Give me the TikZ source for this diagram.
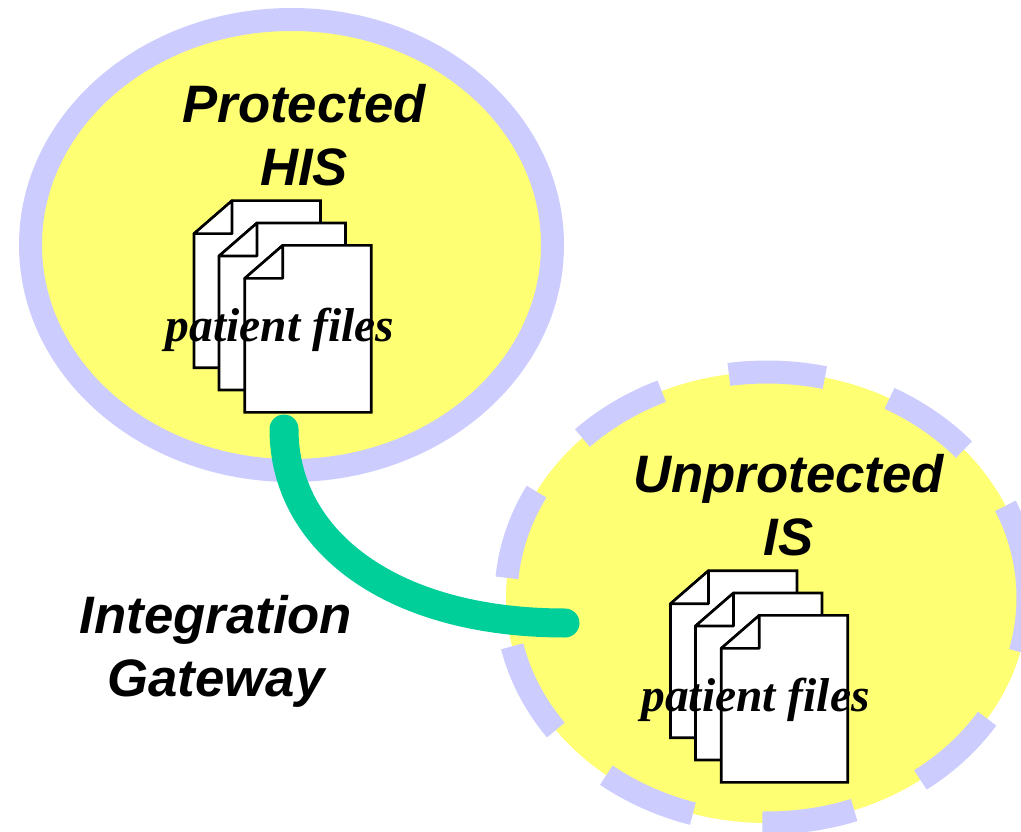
\documentclass[tikz,border=0pt]{standalone}
\usepackage{fontspec}
\setmainfont{Liberation Sans}
\newfontfamily\serifbi{Liberation Serif}
\usetikzlibrary{shapes.geometric}
\definecolor{zoneyellow}{HTML}{FFFF73}
\definecolor{ringblue}{HTML}{CCCCFF}
\definecolor{linkgreen}{HTML}{00CF9A}
\tikzset{
  x=1pt,y=-1pt,
  zone/.style={ellipse,inner sep=0pt,outer sep=0pt,fill=zoneyellow,minimum width=522pt,minimum height=451pt},
  ringdash/.style={draw=ringblue,line width=23pt,line cap=butt},
  head/.style={font=\fontsize{52.7}{63}\selectfont\bfseries\itshape,align=center,text=black,inner sep=0pt},
  ptext/.style={font=\fontsize{47.5}{50}\serifbi\bfseries\itshape,text=black,inner sep=0pt},
  sheet/.style={draw=black,fill=white,line width=2.6pt,line join=miter},
  fold/.style={draw=black,fill=white,line width=2.6pt,line join=round},
  link/.style={draw=linkgreen,line width=29pt,line cap=round},
  docstack/.pic={
    \foreach \dx/\dy in {0/0,25/22.3,50.7/44.7}{
      \begin{scope}[shift={(\dx,\dy)}]
        \path[sheet] (38,0) -- (126.5,0) -- (126.5,167) -- (0,167) -- (0,33) -- cycle;
        \path[fold] (38,0) -- (38,33) -- (0,33) -- cycle;
      \end{scope}
    }
  }
}
\begin{document}
\begin{tikzpicture}
\useasboundingbox (0,0) rectangle (1021,832);
% protected zone
\node[zone,draw=ringblue,line width=23pt] (his) at (291.5,245) {};
\pic at (194,200.7) {docstack};
\node[ptext] (hisfiles) at (280,330) {patient files};
\node[head] (histitle) at (304,135) {Protected\\HIS};
% unprotected zone
\node[zone] (is) at (767,597.5) {};
\foreach \a/\b in {98.4/77.2,62/41,24/-14,-32.5/-54,-70.5/-91,-106.5/-128,-144/-167.5,175/152,135/113.8}{
  \draw[ringdash] (is.center) ++({261*cos(\a)},{-225.5*sin(\a)})
     arc[start angle=\a,end angle=\b,x radius=261,y radius=-225.5];
}
\pic at (670.5,570.7) {docstack};
\node[ptext] (isfiles) at (755.5,700) {patient files};
\node[head] (istitle) at (788.5,505) {Unprotected\\IS};
% gateway
\coordinate (linka) at (284,429);
\coordinate (linkb) at (565,623);
\draw[link] (linka) .. controls (284,540) and (390,623) .. (linkb);
\node[head] (gateway) at (216,651) {Integration\\Gateway};
\end{tikzpicture}
\end{document}
